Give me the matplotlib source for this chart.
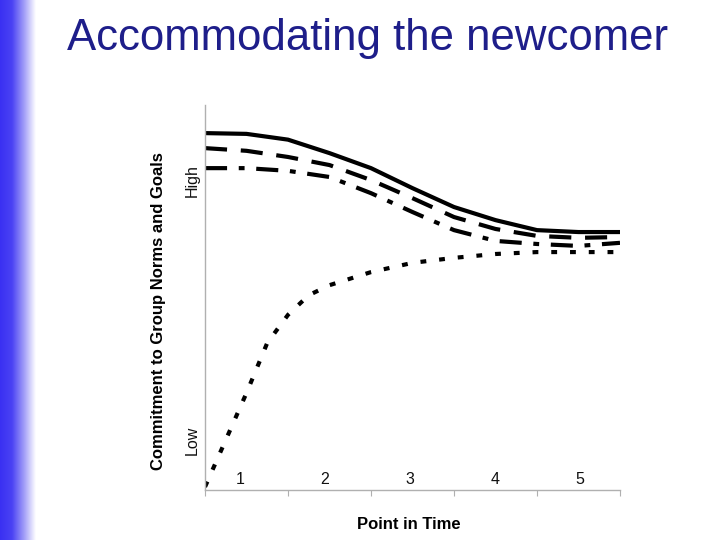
import numpy as np
import matplotlib.pyplot as plt
from matplotlib.colors import LinearSegmentedColormap

# commitment level (0 = low, 100 = high)
time_points = [0, 0.5, 1, 1.5, 2, 2.5, 3, 3.5, 4, 4.5, 5]
member_solid = [92.7, 92.5, 91.0, 87.5, 83.6, 78.4, 73.5, 70.1, 67.5, 67.0, 67.0]
member_dashed = [88.8, 88.1, 86.5, 84.4, 80.5, 75.8, 70.9, 67.8, 66.0, 65.5, 65.7]
member_dashdot = [83.6, 83.6, 82.9, 81.3, 77.1, 72.2, 67.5, 64.7, 63.9, 63.4, 64.2]

newcomer_time = [0, 0.25, 0.5, 0.75, 1, 1.25, 1.5, 2, 2.5, 3, 3.5, 4, 4.5, 5]
newcomer = [0.8, 13.0, 25.2, 38.2, 45.5, 50.6, 53.2, 56.6, 59.0, 60.3, 61.3, 61.8, 61.8, 61.8]

point_labels = ['1', '2', '3', '4', '5']
point_label_pos = [0.42, 1.44, 2.47, 3.49, 4.52]
level_labels = ['Low', 'High']
level_values = [13, 80.5]


def main():
    plt.rcParams['font.family'] = ['Liberation Sans', 'DejaVu Sans']
    fig = plt.figure(figsize=(7.2, 5.4), dpi=100)

    # blue fade on the left edge of the slide
    bar = fig.add_axes([0, 0, 36 / 720, 1])
    cmap = LinearSegmentedColormap.from_list('fade', ['#3a30f2', '#4a42f4', '#a09cf8', '#ffffff'])
    bar.imshow(np.linspace(0, 1, 200).reshape(1, -1), cmap=cmap, aspect='auto')
    bar.axis('off')

    fig.text(368 / 720, 1 - 50 / 540, 'Accommodating the newcomer', ha='center', va='baseline',
             fontsize=31.5, color='#1e1e8a')

    ax = fig.add_axes([205 / 720, 50 / 540, 415 / 720, 385 / 540])
    ax.plot(time_points, member_solid, color='black', lw=3, solid_capstyle='butt')
    ax.plot(time_points, member_dashed, color='black', lw=3, linestyle=(0, (5.3, 3.3)))
    ax.plot(time_points, member_dashdot, color='black', lw=3, linestyle=(0, (5.3, 2.8, 1.4, 2.8)))
    ax.plot(newcomer_time, newcomer, color='black', lw=3, linestyle=(0, (1.4, 3.1)))

    ax.set_xlim(0, 5)
    ax.set_ylim(0, 100)
    for s in ['top', 'right']:
        ax.spines[s].set_visible(False)
    for s in ['left', 'bottom']:
        ax.spines[s].set_color('#b0b0b0')
        ax.spines[s].set_linewidth(1)

    ax.set_xticks(range(6))
    ax.set_xticklabels([])
    ax.tick_params(axis='x', which='major', length=4, color='#b0b0b0', direction='out')
    ax.set_xticks(point_label_pos, minor=True)
    ax.set_xticklabels(point_labels, minor=True, fontsize=11.5, color='#111111')
    ax.tick_params(axis='x', which='minor', length=0, pad=-13)

    ax.set_yticks(level_values)
    ax.set_yticklabels(level_labels, rotation=90, va='center', fontsize=11.5, color='#111111')
    ax.tick_params(axis='y', length=0, pad=4)

    ax.set_xlabel('Point in Time', fontsize=12, fontweight='bold')
    ax.xaxis.set_label_coords(0.49, -27 / 385)
    ax.set_ylabel('Commitment to Group Norms and Goals', fontsize=12, fontweight='bold')
    ax.yaxis.set_label_coords(-39 / 415, 0.465)

    fig.savefig('out.png', dpi=100)


if __name__ == '__main__':
    main()
